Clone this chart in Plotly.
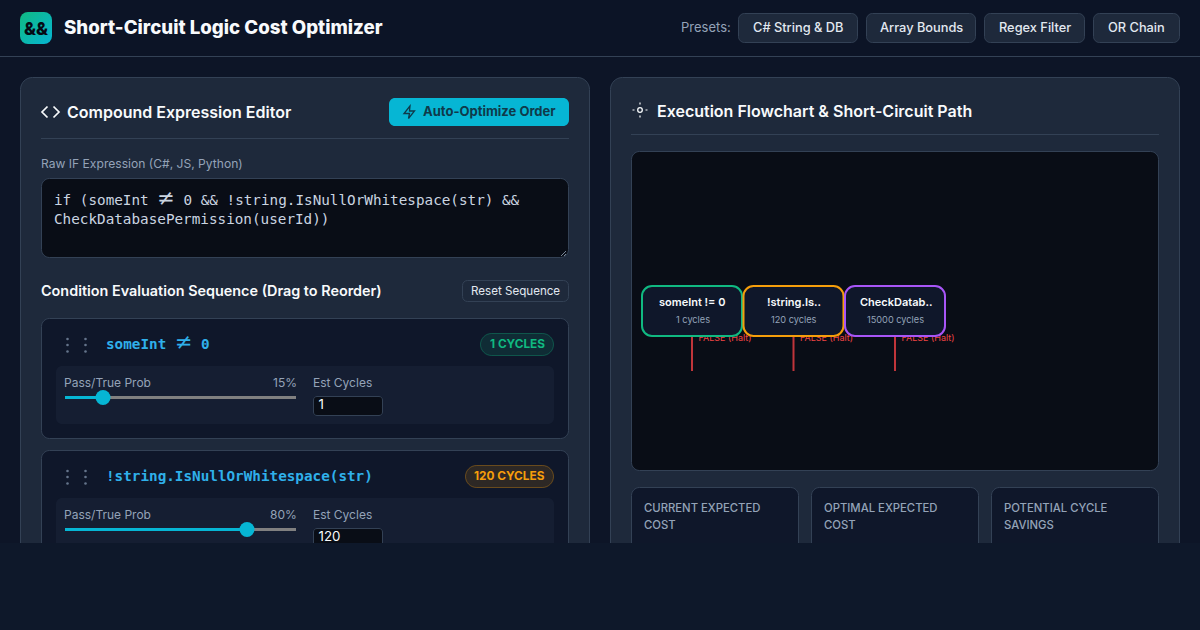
import base64
import plotly.graph_objects as go

# ---- content ----
app_title = "Short-Circuit Logic Cost Optimizer"
preset_names = ["C# String & DB", "Array Bounds", "Regex Filter", "OR Chain"]
NE = '<span style="font-size:21px;font-family:DejaVu Sans;font-weight:400">≠</span>'
expression_lines = [f"if (someInt {NE} 0 && !string.IsNullOrWhitespace(str) &&", "CheckDatabasePermission(userId))"]
condition_labels = [f"someInt {NE} 0", "!string.IsNullOrWhitespace(str)"]
node_labels = ["someInt != 0", "!string.Is..", "CheckDatab.."]
node_cycles = [1, 120, 15000]
pass_probs = [15, 80]
metric_titles = [["CURRENT EXPECTED", "COST"], ["OPTIMAL EXPECTED", "COST"], ["POTENTIAL CYCLE", "SAVINGS"]]

# ---- palette ----
BG, HEAD, PANEL, LINE = "#0d1527", "#0c1426", "#1e293b", "#334155"
CARD, INNER, DARK = "#0f172a", "#151e32", "#090d16"
CYAN, GREEN, AMBER, PURPLE, RED = "#06b6d4", "#10b981", "#f59e0b", "#a855f7", "#ef4444"
TXT, MUTED, SOFT = "#f8fafc", "#94a3b8", "#e2e8f0"
SANS, MONO = "Inter", "DejaVu Sans Mono"
NODE_COLORS = [GREEN, AMBER, PURPLE]

shapes, annotations, traces = [], [], []


def rr(x0, y0, x1, y1, r):
    k = r * 0.45
    return (f"M{x0+r},{y0}L{x1-r},{y0}C{x1-k},{y0} {x1},{y0+k} {x1},{y0+r}L{x1},{y1-r}C{x1},{y1-k} {x1-k},{y1} {x1-r},{y1}"
            f"L{x0+r},{y1}C{x0+k},{y1} {x0},{y1-k} {x0},{y1-r}L{x0},{y0+r}C{x0},{y0+k} {x0+k},{y0} {x0+r},{y0}Z")


def box(x0, y0, x1, y1, r=0, fill="rgba(0,0,0,0)", line=None, w=1, layer="below"):
    shapes.append(dict(type="path", path=rr(x0, y0, x1, y1, r), fillcolor=fill, layer=layer,
                       line=dict(color=line or "rgba(0,0,0,0)", width=w if line else 0)))


def stroke(path, color, w=1.5):
    shapes.append(dict(type="path", path=path, line=dict(color=color, width=w), layer="below"))


def T(x, y, s, size, color, anchor="left", weight=400, family=SANS):
    annotations.append(dict(x=x, y=y, xref="x", yref="y", text=s, showarrow=False, xanchor=anchor, yanchor="middle",
                            borderpad=0, borderwidth=0, font=dict(size=size, color=color, family=family, weight=weight)))


def ST(x, y, s, size, color, pos="middle right", family=SANS, weight=400):
    traces.append(go.Scatter(x=[x], y=[y], mode="text", text=[s], textposition=pos, hoverinfo="skip", showlegend=False,
                             textfont=dict(size=size, color=color, family=family, weight=weight)))


# ---- page & header ----
box(0, 0, 1200, 56, 0, HEAD)
shapes.append(dict(type="line", x0=0, x1=1200, y0=56.5, y1=56.5, line=dict(color=LINE, width=1), layer="below"))
T(36, 28, "&&", 17.5, "#050a14", "center", 800, SANS)
T(64, 27.6, app_title, 18.7, TXT, "left", 800)
T(681, 27, "Presets:", 13, MUTED)
for name, (a, b) in zip(preset_names, [(738, 858), (866, 976), (984, 1085), (1093, 1180)]):
    box(a + .5, 13.5, b - .5, 42.5, 6, PANEL, LINE)
    T((a + b) / 2, 27.8, name, 12.8, SOFT, "center", 500)

# ---- panels ----
for a, b in [(20, 590), (610, 1180)]:
    box(a + .5, 77.5, b - .5, 640, 12, PANEL, LINE)

# left panel header
stroke("M47.5,106.5L42,112L47.5,117.5", TXT, 1.7)
stroke("M53.5,106.5L59,112L53.5,117.5", TXT, 1.7)
T(67, 111.8, "Compound Expression Editor", 16, TXT, "left", 600)
box(389, 98, 569, 126, 6, CYAN)
stroke("M410,106L404,113.5H409.5L408.5,118.5L414.5,111H409.5Z", "#0f3a4a", 1.3)
T(422.5, 111, "Auto-Optimize Order", 13, "#0f3a4a", "left", 700)
shapes.append(dict(type="line", x0=41, x1=569, y0=138.5, y1=138.5, line=dict(color=LINE, width=1), layer="below"))
T(41, 163.5, "Raw IF Expression (C#, JS, Python)", 12.1, MUTED)
box(41.5, 178.5, 568.5, 257.5, 8, DARK, LINE)
for i, (s, yy) in enumerate(zip(expression_lines, [198.4, 219])):
    T(54, yy, s, 14.3, "#cbd5e1", "left", 400, MONO)
stroke("M561,256L566,251M564,256L566,254", MUTED, 0.8)
T(41, 290.4, "Condition Evaluation Sequence (Drag to Reorder)", 14.4, TXT, "left", 600)
box(462.5, 280.5, 568.5, 301.5, 5, "rgba(0,0,0,0)", LINE)
T(515.5, 291, "Reset Sequence", 11.6, SOFT, "center", 400)

# ---- condition cards ----
for i, (label, pct) in enumerate(zip(condition_labels, pass_probs)):
    o = i * 132
    col = NODE_COLORS[i]
    box(41.5, 318.5 + o, 568.5, 438.5 + o, 8, CARD, LINE)
    traces.append(go.Scatter(x=[67.5, 67.5, 67.5, 85.5, 85.5, 85.5],
                             y=[339 + o, 345 + o, 351.5 + o, 339 + o, 345 + o, 351.5 + o],
                             mode="markers", marker=dict(size=2.6, color="#64748b"), hoverinfo="skip", showlegend=False))
    T(105.5, (342 if i == 0 else 344) + o, label, 14.3, "#2fb0ea", "left", 700, MONO)
    text = f"{node_cycles[i]} CYCLES"
    pill_w = 74 if i == 0 else 89
    box(554 - pill_w + .5, 333.5 + o, 553.5, 355.5 + o, 11,
        "rgba(16,185,129,0.13)" if i == 0 else "rgba(245,158,11,0.13)",
        "rgba(16,185,129,0.35)" if i == 0 else "rgba(245,158,11,0.35)")
    T(554 - pill_w / 2, 344 + o, text, 11.8, col, "center", 700)
    box(56, 366 + o, 554, 424 + o, 6, INNER)
    T(64, 382.4 + o, "Pass/True Prob", 12, MUTED)
    T(297, 382.4 + o, f"{pct}%", 12, MUTED, "right")
    T(313, 382.4 + o, "Est Cycles", 12, MUTED)
    thumb = 69.8 + pct * 2.215
    traces.append(go.Scatter(x=[65, 296], y=[397.5 + o, 397.5 + o], mode="lines", line=dict(color="#808080", width=3),
                             hoverinfo="skip", showlegend=False))
    traces.append(go.Scatter(x=[65, thumb], y=[397.5 + o, 397.5 + o], mode="lines", line=dict(color=CYAN, width=3),
                             hoverinfo="skip", showlegend=False))
    traces.append(go.Scatter(x=[thumb], y=[397.5 + o], mode="markers", marker=dict(size=15, color=CYAN),
                             hoverinfo="skip", showlegend=False))
    box(313.5, 396.5 + o, 382.5, 415.5 + o, 3.5, DARK, LINE)
    ST(318.5, 406 + o, str(node_cycles[i]), 13.3, TXT)

# ---- right panel ----
shapes.append(dict(type="circle", x0=637.7, x1=642.3, y0=107.7, y1=112.3, line=dict(color=TXT, width=1.3), layer="below"))
stroke("M640,102.5V104.5M640,115.5V117.5M632.5,110H634.5M645.5,110H647.5", TXT, 1.2)
T(657, 110.6, "Execution Flowchart & Short-Circuit Path", 16, TXT, "left", 600)
shapes.append(dict(type="line", x0=631, x1=1159, y0=134.5, y1=134.5, line=dict(color=LINE, width=1), layer="below"))
box(631.5, 151.5, 1158.5, 470.5, 8, DARK, LINE)

for i, (name, cyc, col) in enumerate(zip(node_labels, node_cycles, NODE_COLORS)):
    x0 = 642 + i * 101.5
    cx = x0 + 50
    traces.append(go.Scatter(x=[cx, cx], y=[336, 371], mode="lines", line=dict(color="#c0353a", width=2),
                             hoverinfo="skip", showlegend=False))
    ST(cx + 6.5, 338.4, "FALSE (Halt)", 9, RED)
    box(x0, 286, x0 + 100, 336, 10, CARD, col, 2, layer="above")
    T(cx + 0.5, 302, name, 11, TXT, "center", 600)
    T(cx + 0.5, 319.5, f"{cyc} cycles", 9.2, MUTED, "center")

# ---- metric cards ----
for i, lines in enumerate(metric_titles):
    x0 = 631 + i * 180
    box(x0 + .5, 487.5, x0 + 167.5, 620, 8, CARD, LINE)
    for j, s in enumerate(lines):
        T(x0 + 13, 507.5 + j * 17, s, 11.3, MUTED, "left", 500)

# page below the photographed panel area
shapes.append(dict(type="rect", x0=0, x1=1200, y0=543, y1=630, fillcolor="#0e182a", line=dict(width=0), layer="above"))

# ---- logo gradient ----
svg = ("<svg xmlns='http://www.w3.org/2000/svg' width='32' height='32'><defs><linearGradient id='g' x1='0' y1='0' x2='1' y2='1'>"
       f"<stop offset='0' stop-color='{GREEN}'/><stop offset='1' stop-color='{CYAN}'/></linearGradient></defs>"
       "<rect width='32' height='32' rx='8' fill='url(#g)'/></svg>")
logo = "data:image/svg+xml;base64," + base64.b64encode(svg.encode()).decode()

fig = go.Figure(data=traces)
fig.update_layout(
    width=1200, height=630, margin=dict(l=0, r=0, t=0, b=0), paper_bgcolor=BG, plot_bgcolor=BG, showlegend=False,
    xaxis=dict(range=[0, 1200], visible=False, fixedrange=True),
    yaxis=dict(range=[630, 0], visible=False, fixedrange=True),
    shapes=shapes, annotations=annotations,
    images=[dict(source=logo, xref="x", yref="y", x=20, y=12, sizex=32, sizey=32, xanchor="left", yanchor="top",
                 sizing="stretch", layer="below")],
)
fig.write_html("out.html", config=dict(displayModeBar=False), default_width=1200, default_height=630)
with open("out.html", "r", encoding="utf-8") as f:
    page = f.read()
page = page.replace("<head>", "<head><style>html,body{margin:0;padding:0;background:#0d1527;overflow:hidden}</style>", 1)
with open("out.html", "w", encoding="utf-8") as f:
    f.write(page)
